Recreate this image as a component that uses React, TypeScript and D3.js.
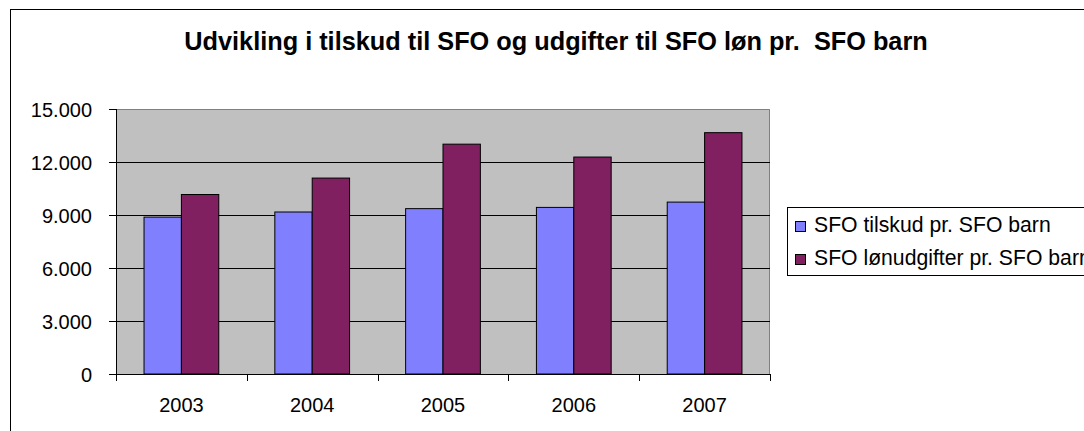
import React from "react";
import * as d3 from "d3";

// chart data
const years = ["2003", "2004", "2005", "2006", "2007"];
const seriesNames = ["SFO tilskud pr. SFO barn", "SFO lønudgifter pr. SFO barn"];
const tilskud = [8880, 9170, 9360, 9430, 9730];
const loenudgifter = [10160, 11090, 13010, 12280, 13660];
const yTicks = [0, 3000, 6000, 9000, 12000, 15000];
const colors = ["#8080ff", "#802060"];

const W = 1084;
const H = 431;
const margin = { top: 109, left: 116, right: 314, bottom: 57 };

const fmt = (v: number) => (v === 0 ? "0" : d3.format(",")(v).replace(/,/g, "."));

export default function App() {
  const plotW = W - margin.left - margin.right;
  const plotH = H - margin.top - margin.bottom;

  const x = d3.scaleBand().domain(years).range([0, plotW]).paddingInner(0).paddingOuter(0);
  const xs = d3
    .scaleBand()
    .domain(seriesNames)
    .range([0, x.bandwidth()])
    .paddingInner(0)
    .paddingOuter(0.75);
  const y = d3.scaleLinear().domain([0, 15000]).range([plotH, 0]);

  const data = [tilskud, loenudgifter];
  const font = "Arial, 'Liberation Sans', sans-serif";

  return (
    <svg
      width={W}
      height={H}
      style={{ position: "absolute", left: 0, top: 0, fontFamily: font }}
    >
      <rect width={W} height={H} fill="#ffffff" />
      {/* outer chart border */}
      <rect x={10.5} y={9.5} width={1100} height={440} fill="none" stroke="#000" strokeWidth={1} />

      <text
        x={556}
        y={50}
        textAnchor="middle"
        fontSize={25.3}
        fontWeight="bold"
        style={{ whiteSpace: "pre" }}
      >
        {"Udvikling i tilskud til SFO og udgifter til SFO løn pr.  SFO barn"}
      </text>

      <g transform={`translate(${margin.left}, ${margin.top})`}>
        <rect x={0} y={0} width={plotW} height={plotH} fill="#c0c0c0" />
        {/* plot border top/right */}
        <path
          d={`M0,0.5H${plotW - 0.5}V${plotH}`}
          fill="none"
          stroke="#808080"
          strokeWidth={1}
        />
        {/* gridlines */}
        {yTicks
          .filter((t) => t > 0 && t < 15000)
          .map((t) => (
            <line
              key={"g" + t}
              x1={0}
              x2={plotW}
              y1={Math.round(y(t)) + 0.5}
              y2={Math.round(y(t)) + 0.5}
              stroke="#000"
              strokeWidth={1}
            />
          ))}

        {/* bars */}
        {years.map((yr, i) => (
          <g key={yr} transform={`translate(${x(yr)}, 0)`}>
            {seriesNames.map((s, j) => (
              <rect
                key={s}
                x={xs(s)}
                y={y(data[j][i])}
                width={xs.bandwidth()}
                height={plotH - y(data[j][i])}
                fill={colors[j]}
                stroke="#000"
                strokeWidth={1}
              />
            ))}
          </g>
        ))}

        {/* y axis */}
        <line x1={0.5} x2={0.5} y1={0} y2={plotH} stroke="#000" />
        {yTicks.map((t) => (
          <g key={"y" + t} transform={`translate(0, ${Math.round(y(t)) + 0.5})`}>
            <line x1={-7} x2={0} stroke="#000" />
            <text x={-24} y={7} textAnchor="end" fontSize={20}>
              {fmt(t)}
            </text>
          </g>
        ))}

        {/* x axis */}
        <line x1={0} x2={plotW} y1={plotH + 0.5} y2={plotH + 0.5} stroke="#000" />
        {years.concat(["end"]).map((yr, i) => {
          const px = Math.round(i * x.step()) + 0.5;
          return <line key={"xt" + i} x1={px} x2={px} y1={plotH} y2={plotH + 7} stroke="#000" />;
        })}
        {years.map((yr) => (
          <text
            key={"xl" + yr}
            x={(x(yr) as number) + x.bandwidth() / 2}
            y={plotH + 38}
            textAnchor="middle"
            fontSize={20}
          >
            {yr}
          </text>
        ))}
      </g>

      {/* legend */}
      <g>
        <rect x={787.5} y={207.5} width={400} height={68} fill="#fff" stroke="#000" strokeWidth={1} />
        {seriesNames.map((s, j) => (
          <g key={"lg" + s} transform={`translate(795, ${221 + j * 33})`}>
            <rect x={0.5} y={0.5} width={10} height={10} fill={colors[j]} stroke="#000" strokeWidth={1} />
            <text x={19} y={11} fontSize={21.2}>
              {s}
            </text>
          </g>
        ))}
      </g>
    </svg>
  );
}
